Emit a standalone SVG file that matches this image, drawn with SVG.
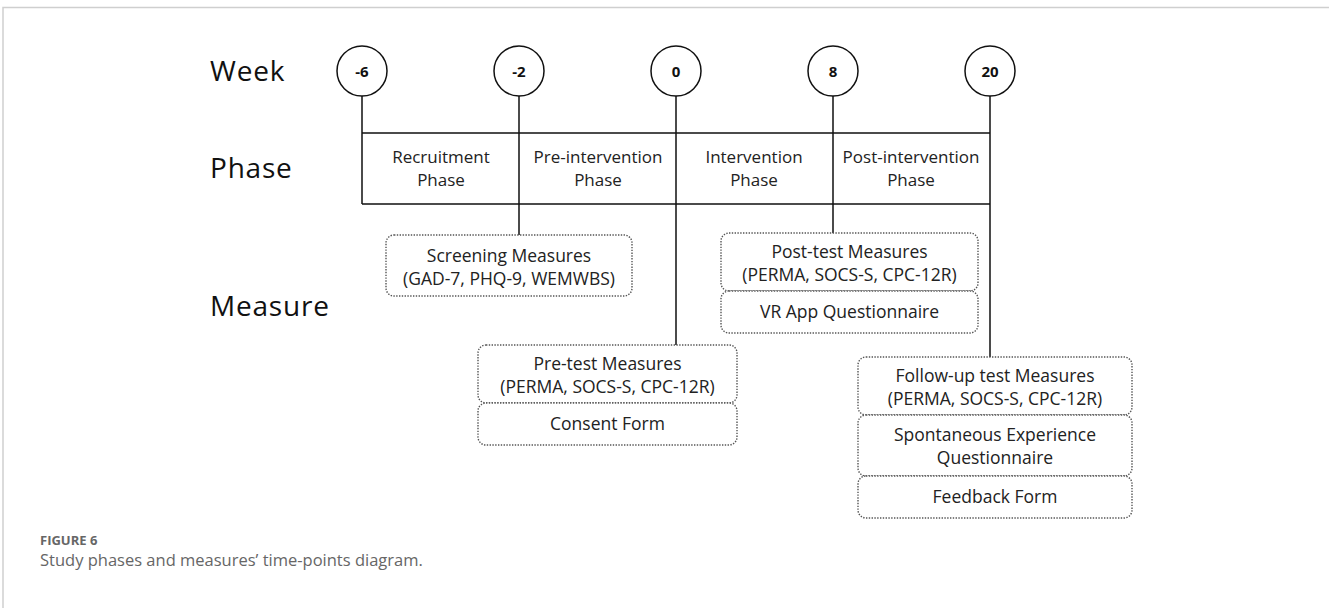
<svg xmlns="http://www.w3.org/2000/svg" width="1329" height="608" viewBox="0 0 1329 608">
  <style>
    .lbl { font-family: "Open Sans", "Noto Sans", sans-serif; font-size: 28px; letter-spacing: 0.8px; fill: #111; }
    .num { font-family: "Open Sans", "Noto Sans", sans-serif; font-size: 15px; font-weight: bold; fill: #111; text-anchor: middle; }
    .ph { font-family: "Open Sans", "Noto Sans", sans-serif; font-size: 17px; fill: #222; text-anchor: middle; }
    .bx { font-family: "Open Sans", "Noto Sans", sans-serif; font-size: 17.5px; fill: #222; text-anchor: middle; }
    .dot { fill: #fff; stroke: #555; stroke-width: 1.4; stroke-dasharray: 1.4 1.4; }
    .ln { stroke: #111; stroke-width: 1.5; fill: none; }
    .cap1 { font-family: "Open Sans", "Noto Sans", sans-serif; font-size: 13px; font-weight: bold; fill: #666; }
    .cap2 { font-family: "Open Sans", "Noto Sans", sans-serif; font-size: 16.5px; fill: #666; }
  </style>

  <!-- page frame -->
  <path d="M3 608 V7.5 H1329" fill="none" stroke="#cfcfcf" stroke-width="1.5"/>

  <!-- row labels -->
  <text class="lbl" x="210" y="81">Week</text>
  <text class="lbl" x="210" y="178">Phase</text>
  <text class="lbl" x="210" y="316">Measure</text>

  <!-- connectors -->
  <g id="connectors">
    <path class="ln" d="M362 96 V133 M519 96 V235 M676 96 V345 M833 96 V233 M990 96 V357"/>
    <path class="ln" d="M362 133 H990 M362 204 H990 M362 133 V204"/>
  </g>

  <!-- week markers -->
  <g id="week-m6"><circle cx="362" cy="71" r="25" fill="#fff" stroke="#111" stroke-width="1.5"/><text class="num" x="362" y="76.5">-6</text></g>
  <g id="week-m2"><circle cx="519" cy="71" r="25" fill="#fff" stroke="#111" stroke-width="1.5"/><text class="num" x="519" y="76.5">-2</text></g>
  <g id="week-0"><circle cx="676" cy="71" r="25" fill="#fff" stroke="#111" stroke-width="1.5"/><text class="num" x="676" y="76.5">0</text></g>
  <g id="week-8"><circle cx="833" cy="71" r="25" fill="#fff" stroke="#111" stroke-width="1.5"/><text class="num" x="833" y="76.5">8</text></g>
  <g id="week-20"><circle cx="990" cy="71" r="25" fill="#fff" stroke="#111" stroke-width="1.5"/><text class="num" x="990" y="76.5">20</text></g>

  <!-- phases -->
  <g id="phase-recruitment"><text class="ph" x="441" y="163">Recruitment</text><text class="ph" x="441" y="186">Phase</text></g>
  <g id="phase-pre"><text class="ph" x="598" y="163">Pre-intervention</text><text class="ph" x="598" y="186">Phase</text></g>
  <g id="phase-intervention"><text class="ph" x="754" y="163">Intervention</text><text class="ph" x="754" y="186">Phase</text></g>
  <g id="phase-post"><text class="ph" x="911" y="163">Post-intervention</text><text class="ph" x="911" y="186">Phase</text></g>

  <!-- measures -->
  <g id="screening">
    <rect class="dot" x="386" y="235" width="246" height="61" rx="8"/>
    <text class="bx" x="509" y="262">Screening Measures</text>
    <text class="bx" x="509" y="285">(GAD-7, PHQ-9, WEMWBS)</text>
  </g>
  <g id="post-test">
    <rect class="dot" x="721" y="233" width="257" height="58" rx="8"/>
    <text class="bx" x="849.5" y="258">Post-test Measures</text>
    <text class="bx" x="849.5" y="281">(PERMA, SOCS-S, CPC-12R)</text>
  </g>
  <g id="vr-app">
    <rect class="dot" x="721" y="291" width="257" height="42" rx="8"/>
    <text class="bx" x="849.5" y="318">VR App Questionnaire</text>
  </g>
  <g id="pre-test">
    <rect class="dot" x="478" y="345" width="259" height="58" rx="8"/>
    <text class="bx" x="607.5" y="370">Pre-test Measures</text>
    <text class="bx" x="607.5" y="393">(PERMA, SOCS-S, CPC-12R)</text>
  </g>
  <g id="consent">
    <rect class="dot" x="478" y="403" width="259" height="42" rx="8"/>
    <text class="bx" x="607.5" y="430">Consent Form</text>
  </g>
  <g id="follow-up">
    <rect class="dot" x="858" y="357" width="274" height="58" rx="8"/>
    <text class="bx" x="995" y="382">Follow-up test Measures</text>
    <text class="bx" x="995" y="405">(PERMA, SOCS-S, CPC-12R)</text>
  </g>
  <g id="spontaneous">
    <rect class="dot" x="858" y="415" width="274" height="61" rx="8"/>
    <text class="bx" x="995" y="441">Spontaneous Experience</text>
    <text class="bx" x="995" y="464">Questionnaire</text>
  </g>
  <g id="feedback">
    <rect class="dot" x="858" y="476" width="274" height="42" rx="8"/>
    <text class="bx" x="995" y="503">Feedback Form</text>
  </g>

  <!-- caption -->
  <text class="cap1" x="40" y="545">FIGURE 6</text>
  <text class="cap2" x="40" y="566">Study phases and measures’ time-points diagram.</text>
</svg>
